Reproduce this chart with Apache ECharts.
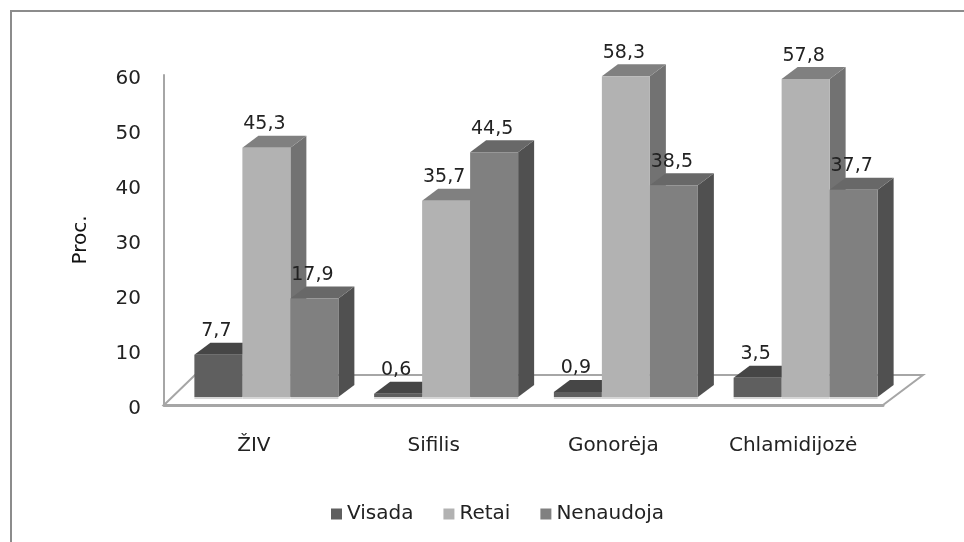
<!DOCTYPE html>
<html>
<head>
<meta charset="utf-8">
<style>
  html, body { margin: 0; padding: 0; background: #fff; }
  /* the source picture is a soft scan */
  #chart { width: 964px; height: 542px; filter: blur(0.5px); }
</style>
<script src="https://cdn.jsdelivr.net/npm/echarts@6/dist/echarts.min.js"></script>
</head>
<body>
<div id="chart"></div>
<script>
const categories = ['ŽIV', 'Sifilis', 'Gonorėja', 'Chlamidijozė']
const visada = [7.7, 0.6, 0.9, 3.5]
const retai = [45.3, 35.7, 58.3, 57.8]
const nenaudoja = [17.9, 44.5, 38.5, 37.7]
const seriesNames = ['Visada', 'Retai', 'Nenaudoja']
const yTicks = { min: 0, max: 60, interval: 10 }

// front, top and side face of each series
const faces = [
  { front: '#5f5f5f', top: '#464646', side: '#464646' },
  { front: '#b2b2b2', top: '#808080', side: '#727272' },
  { front: '#808080', top: '#686868', side: '#505050' }
]

const FONT = '"DejaVu Sans", sans-serif'
const BAR_W = 48
const DEPTH_X = 16
const DEPTH_Y = 12
// bars stand on the floor, a bit behind the axis plane
const SHIFT_X = 12.5
const SHIFT_Y = -8

const fmt = (v) => String(v).replace('.', ',')

const barItem = (idx) => (params, api) => {
  const base = api.coord([api.value(0), 0])
  const head = api.coord([api.value(0), api.value(1)])
  const x0 = base[0] + SHIFT_X + (idx - 1.5) * BAR_W
  const x1 = x0 + BAR_W
  const y0 = base[1] + SHIFT_Y
  const y1 = head[1] + SHIFT_Y
  const c = faces[idx]
  return {
    type: 'group',
    children: [
      {
        type: 'polygon',
        shape: { points: [[x1, y0], [x1 + DEPTH_X, y0 - DEPTH_Y], [x1 + DEPTH_X, y1 - DEPTH_Y], [x1, y1]] },
        style: { fill: c.side }
      },
      {
        type: 'polygon',
        shape: { points: [[x0, y1], [x0 + DEPTH_X, y1 - DEPTH_Y], [x1 + DEPTH_X, y1 - DEPTH_Y], [x1, y1]] },
        style: { fill: c.top }
      },
      {
        type: 'rect',
        shape: { x: x0, y: y1, width: BAR_W, height: y0 - y1 },
        style: { fill: c.front }
      },
      {
        type: 'rect',
        shape: { x: x0, y: y0, width: BAR_W, height: 2 },
        style: { fill: '#d6d6d6' }
      },
      {
        type: 'text',
        z2: 10,
        style: {
          x: x0 + BAR_W / 2 - 2,
          y: y1 - DEPTH_Y - 2,
          text: fmt(api.value(1)),
          align: 'center',
          verticalAlign: 'bottom',
          font: '19px ' + FONT,
          fill: '#222'
        }
      }
    ]
  }
}

const floorItem = (params) => {
  const g = params.coordSys
  const bottom = g.y + g.height
  const right = g.x + g.width
  return {
    type: 'polygon',
    shape: {
      points: [[g.x, bottom], [g.x + 31, bottom - 30], [right + 40, bottom - 30], [right, bottom]]
    },
    style: { fill: '#fff', stroke: '#a6a6a6', lineWidth: 2 }
  }
}

const makeBars = (name, values, idx) => ({
  type: 'custom',
  name: name,
  z: 3 + idx,
  itemStyle: { color: faces[idx].front },
  renderItem: barItem(idx),
  encode: { x: 0, y: 1 },
  data: values.map((v, i) => [i, v])
})

const chart = echarts.init(document.getElementById('chart'))

chart.setOption({
  animation: false,
  backgroundColor: '#fff',
  graphic: [
    {
      type: 'polyline',
      shape: { points: [[11, 542], [11, 11], [964, 11]] },
      style: { stroke: '#8c8c8c', lineWidth: 2, fill: 'none' }
    }
  ],
  grid: { left: 164, top: 75, width: 719, height: 330 },
  legend: {
    data: seriesNames,
    left: 331,
    top: 504,
    padding: 0,
    icon: 'rect',
    itemWidth: 11,
    itemHeight: 11,
    itemGap: 30,
    textStyle: { fontFamily: FONT, fontSize: 20, color: '#222' }
  },
  xAxis: {
    type: 'category',
    data: categories,
    axisLine: { show: true, lineStyle: { color: '#a6a6a6', width: 3 } },
    axisTick: { show: false },
    axisLabel: { margin: 31, fontFamily: FONT, fontSize: 20, color: '#222' }
  },
  yAxis: {
    type: 'value',
    min: yTicks.min,
    max: yTicks.max,
    interval: yTicks.interval,
    name: 'Proc.',
    nameLocation: 'middle',
    nameGap: 73,
    nameTextStyle: { fontFamily: FONT, fontSize: 20, color: '#111' },
    axisLine: { show: true, lineStyle: { color: '#a6a6a6', width: 2 } },
    axisTick: { show: false },
    splitLine: { show: false },
    axisLabel: { margin: 23, verticalAlign: 'top', lineHeight: 8, fontFamily: FONT, fontSize: 20, color: '#222' }
  },
  series: [
    {
      type: 'custom',
      z: 1,
      silent: true,
      renderItem: floorItem,
      data: [[0, 0]]
    },
    makeBars(seriesNames[0], visada, 0),
    makeBars(seriesNames[1], retai, 1),
    makeBars(seriesNames[2], nenaudoja, 2)
  ]
})

window.addEventListener('resize', () => chart.resize())
</script>
</body>
</html>
